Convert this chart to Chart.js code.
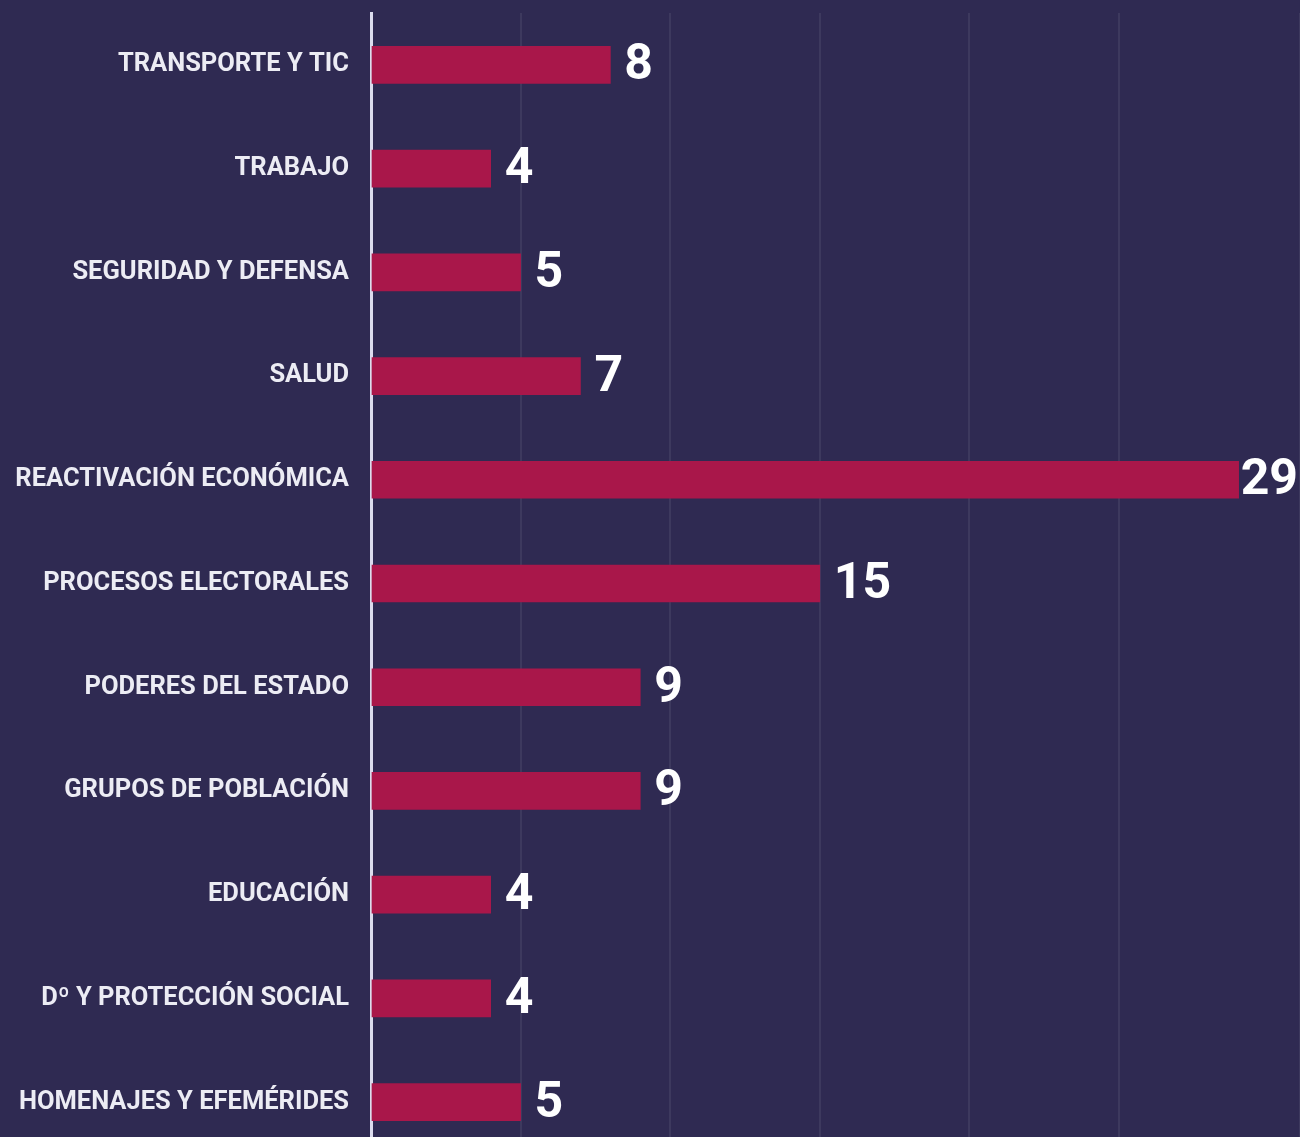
<!DOCTYPE html>
<html>
<head>
<meta charset="utf-8">
<script src="https://cdn.jsdelivr.net/npm/chart.js@4"></script>
<style>
  html, body { margin: 0; padding: 0; background: #2f2a52; overflow: hidden; }
  #wrap { width: 1300px; height: 1155px; position: relative; }
</style>
</head>
<body>
<div id="wrap"><canvas id="c"></canvas></div>
<script>
const categories = [
  "TRANSPORTE Y TIC",
  "TRABAJO",
  "SEGURIDAD Y DEFENSA",
  "SALUD",
  "REACTIVACIÓN ECONÓMICA",
  "PROCESOS ELECTORALES",
  "PODERES DEL ESTADO",
  "GRUPOS DE POBLACIÓN",
  "EDUCACIÓN",
  "Dº Y PROTECCIÓN SOCIAL",
  "HOMENAJES Y EFEMÉRIDES"
];
const values = [8, 4, 5, 7, 29, 15, 9, 9, 4, 4, 5];
const axisMax = 31.05;
const gridStep = 5;

const valueLabels = {
  id: 'valueLabels',
  afterDatasetsDraw(chart) {
    const ctx = chart.ctx;
    const meta = chart.getDatasetMeta(0);
    ctx.save();
    ctx.font = 'bold 50px Roboto';
    ctx.fillStyle = '#ffffff';
    ctx.textBaseline = 'middle';
    ctx.textAlign = 'left';
    meta.data.forEach((bar, i) => {
      const txt = String(values[i]);
      const w = ctx.measureText(txt).width;
      let x = bar.x + 14;
      if (x + w > chart.width - 2) x = chart.width - 2 - w;
      ctx.fillText(txt, x, bar.y + 2);
    });
    ctx.restore();
  }
};

new Chart(document.getElementById('c'), {
  type: 'bar',
  data: {
    labels: categories,
    datasets: [{
      data: values,
      backgroundColor: '#a9174a',
      borderWidth: 0,
      barThickness: 37
    }]
  },
  options: {
    indexAxis: 'y',
    responsive: true,
    maintainAspectRatio: false,
    animation: false,
    layout: { padding: { top: 13, bottom: 1, left: 0, right: 0 } },
    plugins: { legend: { display: false }, tooltip: { enabled: false } },
    scales: {
      x: {
        min: 0,
        max: axisMax,
        afterFit(scale) { scale.height = 0; scale.paddingLeft = 0; scale.paddingRight = 0; },
        ticks: { display: false, stepSize: gridStep },
        grid: { color: 'rgba(255,255,255,0.07)', lineWidth: 2, drawTicks: false },
        border: { display: false }
      },
      y: {
        afterFit(scale) { scale.width = 371; scale.paddingTop = 0; scale.paddingBottom = 0; },
        ticks: {
          color: '#ececf4',
          font: { family: 'Roboto', weight: 'bold', size: 25.5 },
          padding: 22
        },
        grid: { display: false, drawTicks: false },
        border: { display: true, color: '#dcdcee', width: 3 }
      }
    }
  },
  plugins: [valueLabels]
});
</script>
</body>
</html>
